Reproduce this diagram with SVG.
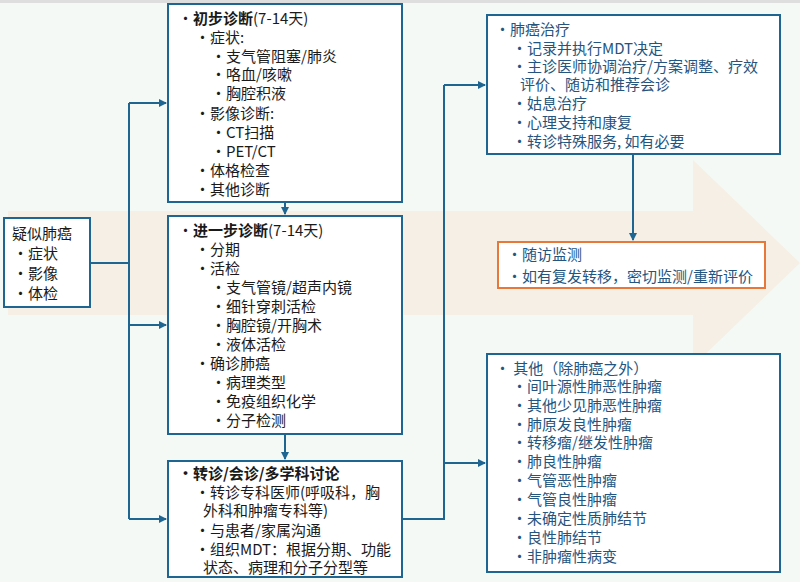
<svg xmlns="http://www.w3.org/2000/svg" width="800" height="582" viewBox="0 0 800 582">
<style>
text{font-family:"Noto Sans CJK SC","Noto Sans",sans-serif;font-size:15px;fill:#1a1a1a;dominant-baseline:central}
.b{font-weight:bold}
.r text{fill:#24557f}
.box{fill:#fff;stroke:#1f6591;stroke-width:2}
.ob{fill:#fff;stroke:#e8773a;stroke-width:2}
.c{fill:none;stroke:#1f6591;stroke-width:2}
</style>
<defs><marker id="a" markerWidth="8" markerHeight="8" refX="7" refY="4" orient="auto" markerUnits="userSpaceOnUse"><path d="M0,0 L8,4 L0,8 Z" fill="#1f6591"/></marker></defs>
<rect width="800" height="582" fill="#f4f9f5"/>
<rect width="800" height="3" fill="#dedede"/>
<polygon points="8,211 693,211 693,160 800,263 693,366 693,315 8,315" fill="#f6efe5"/>
<g id="connectors">
<path class="c" d="M90,263 H129"/>
<path class="c" d="M129,103 V519"/>
<path class="c" d="M129,103 H166" marker-end="url(#a)"/>
<path class="c" d="M129,325 H166" marker-end="url(#a)"/>
<path class="c" d="M129,519 H166" marker-end="url(#a)"/>
<path class="c" d="M285,202 V214" marker-end="url(#a)"/>
<path class="c" d="M285,434 V459" marker-end="url(#a)"/>
<path class="c" d="M402,519 H444 V85"/>
<path class="c" d="M444,85 H485" marker-end="url(#a)"/>
<path class="c" d="M444,463 H485" marker-end="url(#a)"/>
<path class="c" d="M633,154 V240" marker-end="url(#a)"/>
</g>
<g id="suspect">
<rect class="box" x="4" y="218" width="86" height="89"/>
<text x="12" y="232">疑似肺癌</text>
<text x="13" y="252">•症状</text>
<text x="13" y="272">•影像</text>
<text x="13" y="292">•体检</text>
</g>
<g id="initial">
<rect class="box" x="168" y="4" width="234" height="198"/>
<text x="178" y="17">•<tspan class="b">初步诊断</tspan>(7-14天)</text>
<text x="195" y="36">•症状:</text>
<text x="211" y="55">•支气管阻塞/肺炎</text>
<text x="211" y="73">•咯血/咳嗽</text>
<text x="211" y="92">•胸腔积液</text>
<text x="195" y="112">•影像诊断:</text>
<text x="211" y="131">•CT扫描</text>
<text x="211" y="150">•PET/CT</text>
<text x="195" y="169">•体格检查</text>
<text x="195" y="188">•其他诊断</text>
</g>
<g id="further">
<rect class="box" x="168" y="216" width="234" height="218"/>
<text x="178" y="229">•<tspan class="b">进一步诊断</tspan>(7-14天)</text>
<text x="195" y="248">•分期</text>
<text x="195" y="267">•活检</text>
<text x="211" y="286">•支气管镜/超声内镜</text>
<text x="211" y="305">•细针穿刺活检</text>
<text x="211" y="324">•胸腔镜/开胸术</text>
<text x="211" y="343">•液体活检</text>
<text x="195" y="362">•确诊肺癌</text>
<text x="211" y="381">•病理类型</text>
<text x="211" y="400">•免疫组织化学</text>
<text x="211" y="419">•分子检测</text>
</g>
<g id="referral">
<rect class="box" x="168" y="461" width="234" height="116"/>
<text x="178" y="472" class="b">•转诊/会诊/多学科讨论</text>
<text x="195" y="491">•转诊专科医师(呼吸科，胸</text>
<text x="203" y="509">外科和肿瘤专科等)</text>
<text x="195" y="529">•与患者/家属沟通</text>
<text x="195" y="548">•组织MDT：根据分期、功能</text>
<text x="203" y="566">状态、病理和分子分型等</text>
</g>
<g id="treatment" class="r">
<rect class="box" x="487" y="15" width="293" height="139"/>
<text x="495" y="28">•肺癌治疗</text>
<text x="512" y="47">•记录并执行MDT决定</text>
<text x="512" y="65">•主诊医师协调治疗/方案调整、疗效</text>
<text x="520" y="83">评价、随访和推荐会诊</text>
<text x="512" y="102">•姑息治疗</text>
<text x="512" y="121">•心理支持和康复</text>
<text x="512" y="140">•转诊特殊服务, 如有必要</text>
</g>
<g id="followup" class="r">
<rect class="ob" x="498" y="242" width="267" height="46"/>
<text x="507" y="253">•随访监测</text>
<text x="507" y="275">•如有复发转移，密切监测/重新评价</text>
</g>
<g id="other" class="r">
<rect class="box" x="487" y="354" width="293" height="218"/>
<text x="495" y="367">• 其他（除肺癌之外）</text>
<text x="512" y="385">•间叶源性肺恶性肿瘤</text>
<text x="512" y="404">•其他少见肺恶性肿瘤</text>
<text x="512" y="423">•肺原发良性肿瘤</text>
<text x="512" y="441">•转移瘤/继发性肿瘤</text>
<text x="512" y="460">•肺良性肿瘤</text>
<text x="512" y="479">•气管恶性肿瘤</text>
<text x="512" y="498">•气管良性肿瘤</text>
<text x="512" y="517">•未确定性质肺结节</text>
<text x="512" y="536">•良性肺结节</text>
<text x="512" y="555">•非肿瘤性病变</text>
</g>
</svg>
